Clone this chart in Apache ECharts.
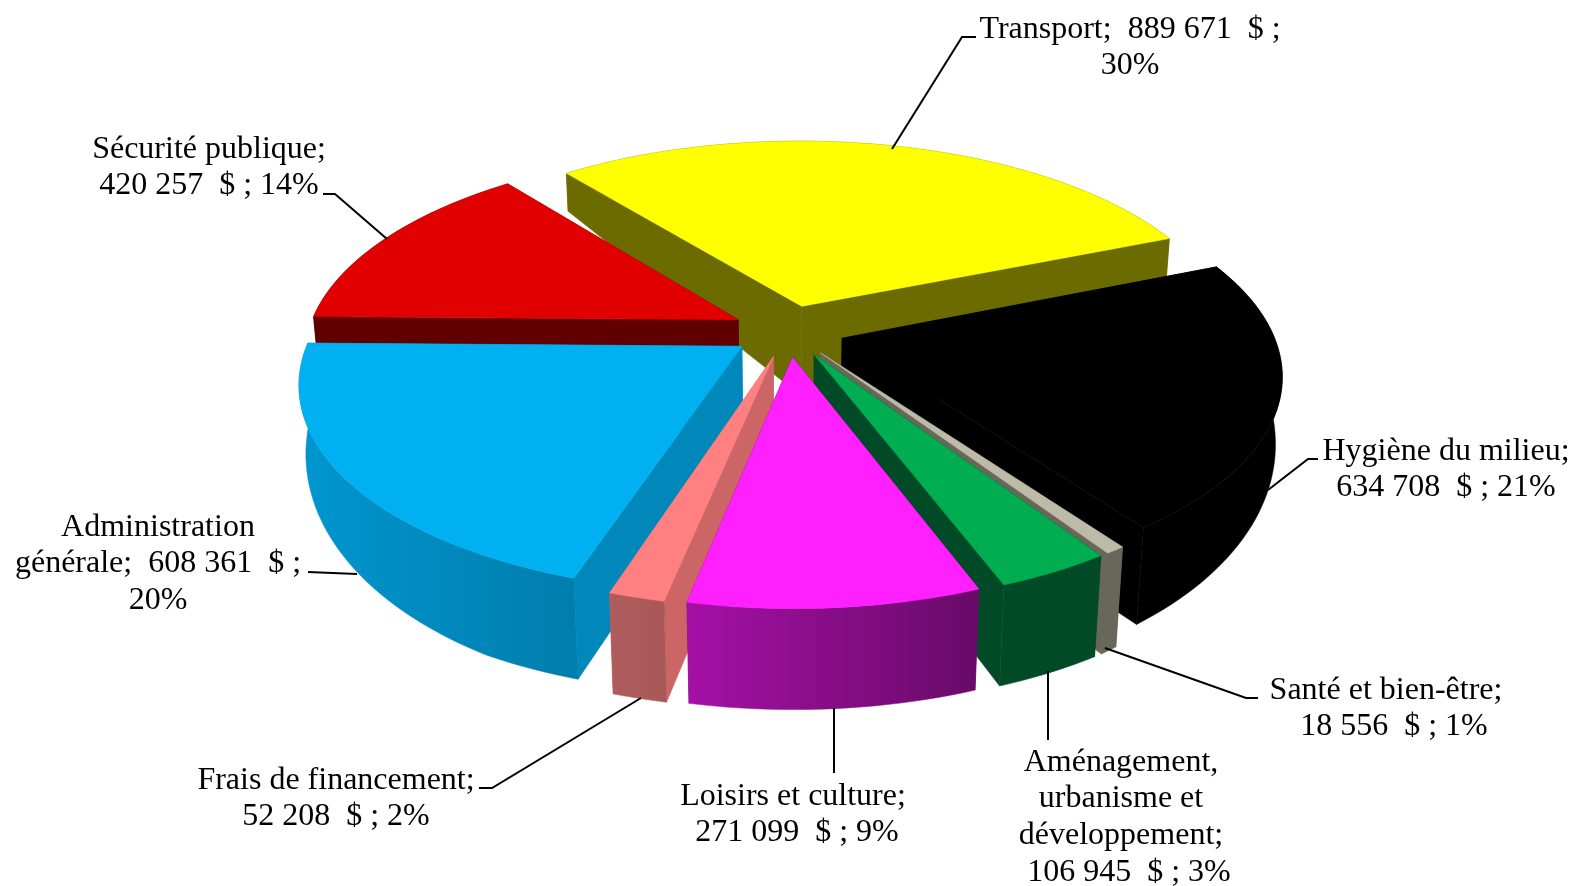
<!DOCTYPE html>
<html>
<head>
<meta charset="utf-8">
<title>Dépenses</title>
<style>
html,body{margin:0;padding:0;background:#fff;}
#main{width:1575px;height:886px;}
</style>
<script src="https://cdn.jsdelivr.net/npm/echarts@6/dist/echarts.min.js"></script>
</head>
<body>
<div id="main"></div>
<script>
var names = ["Transport","Hygiène du milieu","Santé et bien-être","Aménagement,\nurbanisme et\ndéveloppement","Loisirs et culture","Frais de financement","Administration\ngénérale","Sécurité publique"];
var values = [889671,634708,18556,106945,271099,52208,608361,420257];
var percents = [30,21,1,3,9,2,20,14];

// colours: top face, cut face, outer wall (left, right of the gradient)
var topColors = ["#ffff00","#000000","#bdbaa8","#00ad50","#ff1fff","#ff8080","#00b0f0","#e00000"];
var cutColors = ["#6b6b00","#000000","#69665a","#004a28","#6f0a6f","#cc6666","#0088bb","#600000"];
var wallLeft = ["#6b6b00","#000000","#69665a","#004a28","#a510a5","#b05c5c","#0096cf","#600000"];
var wallRight = ["#6b6b00","#000000","#69665a","#004a28","#680a68","#a85858","#007dac","#600000"];

// back to front
var drawOrder = [0,7,1,2,3,6,5,4];

// label layout: centre of first line, leader line
var labelPos = [[1130,26],[1446,448],[1386,687],[1121,759],[793,793],[336,777],[158,524],[209,146]];
var nameBreak = [false,true,true,true,true,true,false,true];
var pctBreak = [true,false,false,false,false,false,true,false];
var leadSpaces = ["","","  ","  "," ","","",""];
var leaders = [
	[[892,149],[962,37],[976,37]],
	[[1268,490],[1308,459],[1318,459]],
	[[1105,648],[1246,698],[1258,698]],
	[[1048,671],[1048,740]],
	[[834,708],[834,773]],
	[[641,698],[492,788],[479,788]],
	[[357,574],[308,572]],
	[[387,239],[335,194],[323,194]]
];

// fake 3d camera, fitted on the picture
var cx = 788, cy = 331, S = 430, tilt = 0.465, persp = 0.165;
var startAngle = -38.7, explode = 0.13, apexDepth = 90;

var total = 0;
for(var t=0;t<values.length;t++){ total += values[t]; }

function rimDepth(y){
	// wall gets higher towards the viewer
	var h = 38 + (0.5-y)*43.7;
	return Math.max(38,Math.min(101,h));
}

function project(x,y,h){
	var w = 1/(1+persp*y);
	var sx = S*x*w;
	var sy = -S*tilt*y*w;
	return [cx+sx*(1-0.0002*h), cy+sy+h];
}

function sliceAngles(i){
	var before = 0;
	for(var j=0;j<i;j++){ before += values[j]; }
	return [startAngle+before/total*360, startAngle+(before+values[i])/total*360];
}

function renderSlice(params,api){
	var i = api.value(0);
	var a = sliceAngles(i);
	var mid = (a[0]+a[1])/2*Math.PI/180;
	var ox = explode*Math.sin(mid), oy = explode*Math.cos(mid);
	var topRim = [], botRim = [];
	var steps = Math.max(2,Math.ceil((a[1]-a[0])/1.5));
	for(var s=0;s<=steps;s++){
		var th = (a[0]+(a[1]-a[0])*s/steps)*Math.PI/180;
		var x = ox+Math.sin(th), y = oy+Math.cos(th);
		topRim.push(project(x,y,0));
		botRim.push(project(x,y,rimDepth(y)));
	}
	var apexTop = project(ox,oy,0), apexBot = project(ox,oy,apexDepth);
	var rank = drawOrder.indexOf(i)*10;
	var cutStyle = {fill:cutColors[i],stroke:cutColors[i],lineWidth:0.5};
	var wallFill = new echarts.graphic.LinearGradient(0,0,1,0,[{offset:0,color:wallLeft[i]},{offset:1,color:wallRight[i]}]);
	return {
		type:"group",
		children:[
			{type:"polygon",z2:rank+1,shape:{points:[apexTop,topRim[0],botRim[0],apexBot]},style:cutStyle},
			{type:"polygon",z2:rank+1,shape:{points:[apexTop,topRim[steps],botRim[steps],apexBot]},style:cutStyle},
			{type:"polygon",z2:rank+2,shape:{points:topRim.concat(botRim.slice().reverse())},style:{fill:wallFill,stroke:wallFill,lineWidth:0.5}},
			{type:"polygon",z2:rank+3,shape:{points:[apexTop].concat(topRim)},style:{fill:topColors[i],stroke:topColors[i],lineWidth:0.5}}
		]
	};
}

function labelText(i){
	var v = String(values[i]).replace(/\B(?=(\d{3})+$)/g," ");
	return names[i]+";"+(nameBreak[i]?"\n"+leadSpaces[i]:"  ")+v+"  $ ;"+(pctBreak[i]?"\n":" ")+percents[i]+"%";
}

var graphics = [];
for(var n=0;n<names.length;n++){
	graphics.push({
		type:"polyline",z:20,silent:true,
		shape:{points:leaders[n]},
		style:{stroke:"#000",lineWidth:2,fill:null}
	});
	graphics.push({
		type:"text",z:21,silent:true,
		x:labelPos[n][0],y:labelPos[n][1]-15,
		style:{text:labelText(n),fill:"#000",font:'32px "Liberation Serif"',lineHeight:36.7,align:"center",verticalAlign:"top"}
	});
}

var myChart = echarts.init(document.getElementById("main"),null,{renderer:"canvas"});
myChart.setOption({
	animation:false,
	backgroundColor:"#fff",
	graphic:graphics,
	series:[{
		type:"custom",
		coordinateSystem:"none",
		silent:true,
		renderItem:renderSlice,
		data:drawOrder.map(function(i){ return [i,values[i]]; })
	}]
});
</script>
</body>
</html>
